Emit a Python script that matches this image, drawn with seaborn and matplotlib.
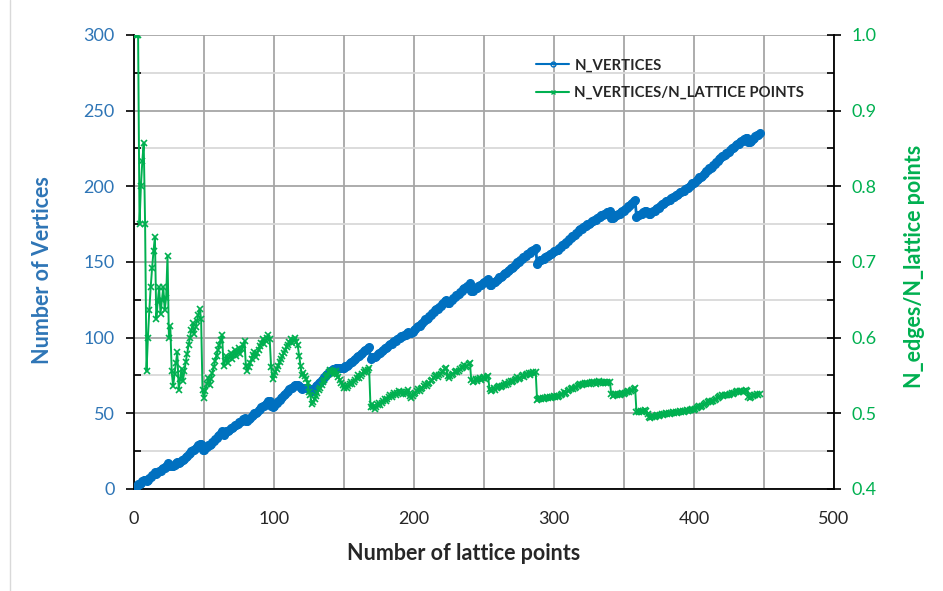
import numpy as np
import pandas as pd
import matplotlib
matplotlib.use("Agg")
import matplotlib.pyplot as plt
import seaborn as sns
from matplotlib.ticker import MultipleLocator
from matplotlib.lines import Line2D

# ---- data: number of vertices for each number of lattice points (1..447)
n_vertices = [
    1, 2, 3, 3, 4, 5, 6, 6, 5, 6,
    7, 8, 9, 10, 11, 10, 11, 12, 12, 13,
    14, 14, 15, 17, 15, 16, 15, 15, 16, 17,
    18, 17, 18, 19, 19, 20, 21, 22, 23, 24,
    25, 26, 26, 27, 28, 29, 30, 30, 26, 26,
    27, 28, 29, 29, 30, 31, 32, 33, 34, 35,
    36, 37, 38, 36, 37, 38, 38, 39, 40, 40,
    41, 42, 42, 43, 44, 44, 45, 46, 47, 45,
    45, 46, 47, 48, 49, 50, 50, 51, 52, 53,
    54, 55, 55, 56, 57, 58, 58, 55, 54, 55,
    56, 57, 58, 59, 60, 61, 62, 63, 64, 65,
    66, 67, 67, 68, 69, 69, 69, 68, 67, 66,
    67, 67, 67, 67, 66, 66, 65, 66, 67, 68,
    69, 70, 71, 72, 73, 74, 75, 76, 77, 78,
    78, 79, 79, 80, 80, 80, 80, 80, 80, 80,
    81, 81, 82, 83, 84, 84, 85, 86, 87, 88,
    88, 89, 90, 91, 92, 92, 93, 94, 86, 87,
    87, 87, 88, 89, 90, 90, 91, 92, 93, 93,
    94, 95, 96, 96, 97, 98, 98, 99, 100, 100,
    101, 101, 102, 102, 103, 104, 103, 103, 104, 105,
    106, 107, 108, 108, 109, 110, 111, 112, 112, 113,
    114, 115, 116, 117, 118, 119, 119, 120, 121, 122,
    123, 124, 125, 123, 123, 124, 125, 126, 127, 128,
    128, 129, 130, 131, 132, 133, 133, 134, 135, 136,
    131, 131, 132, 133, 133, 134, 135, 135, 136, 137,
    137, 138, 139, 135, 135, 136, 137, 137, 138, 139,
    140, 140, 141, 142, 143, 143, 144, 145, 146, 146,
    147, 148, 149, 150, 150, 151, 152, 153, 153, 154,
    155, 156, 156, 157, 158, 158, 159, 149, 150, 151,
    151, 152, 152, 153, 154, 154, 155, 155, 156, 157,
    157, 158, 158, 159, 160, 161, 162, 162, 163, 164,
    165, 166, 167, 167, 168, 169, 170, 171, 172, 172,
    173, 174, 174, 175, 175, 176, 177, 177, 178, 178,
    179, 180, 180, 181, 181, 182, 182, 183, 183, 184,
    179, 179, 180, 181, 181, 182, 182, 183, 184, 184,
    185, 186, 187, 187, 188, 189, 190, 191, 180, 181,
    181, 182, 182, 183, 184, 184, 183, 182, 182, 183,
    184, 184, 185, 186, 186, 187, 188, 188, 189, 190,
    190, 191, 191, 192, 193, 193, 194, 194, 195, 196,
    196, 197, 197, 198, 199, 199, 200, 201, 202, 202,
    203, 204, 205, 206, 206, 207, 208, 209, 210, 211,
    212, 212, 213, 214, 215, 216, 217, 218, 219, 220,
    220, 221, 222, 222, 223, 224, 225, 225, 226, 227,
    228, 228, 229, 230, 230, 231, 232, 232, 229, 229,
    230, 231, 232, 233, 234, 234, 235,
]
lattice_points = list(range(1, len(n_vertices) + 1))

x_ticks = [0, 100, 200, 300, 400, 500]
left_ticks = [0, 50, 100, 150, 200, 250, 300]
right_ticks = [0.4, 0.5, 0.6, 0.7, 0.8, 0.9, 1.0]

df = pd.DataFrame({"lattice": lattice_points, "vertices": n_vertices})
df["ratio"] = df["vertices"] / df["lattice"]

BLUE = "#0070C0"
BLUE_TXT = "#2E75B6"
GREEN = "#00B050"

sns.set_theme(style="white")
plt.rcParams["font.family"] = ["Lato", "DejaVu Sans"]

fig = plt.figure(figsize=(9.43, 5.91), dpi=100)
ax = fig.add_axes([0.142, 0.1726, 0.7423, 0.7682])
ax2 = ax.twinx()

sns.lineplot(data=df, x="lattice", y="vertices", ax=ax, color=BLUE, lw=2,
             marker="o", markersize=5.5, markeredgecolor=BLUE, markeredgewidth=1,
             label="N_VERTICES", legend=False, zorder=3)
sns.lineplot(data=df, x="lattice", y="ratio", ax=ax2, color=GREEN, lw=1.4,
             marker="x", markersize=4, markeredgecolor=GREEN, markeredgewidth=1.2,
             label="N_VERTICES/N_LATTICE POINTS", legend=False, zorder=3)

ax.set_xlim(0, 500)
ax.set_ylim(0, 300)
ax2.set_ylim(0.4, 1.0)
ax.set_xticks(x_ticks)
ax.set_yticks(left_ticks)
ax2.set_yticks(right_ticks)
ax.xaxis.set_minor_locator(MultipleLocator(50))
ax.yaxis.set_minor_locator(MultipleLocator(25))
ax2.yaxis.set_minor_locator(MultipleLocator(0.05))
ax2.set_yticklabels([f"{v:.1f}" for v in right_ticks])

ax.set_axisbelow(True)
ax.grid(which="major", color="#A6A6A6", lw=1.3)
ax.grid(which="minor", axis="x", color="#A6A6A6", lw=1.3)
ax.grid(which="minor", axis="y", color="#D9D9D9", lw=1.3)
ax2.grid(False)

for s in ["top", "right"]:
    ax.spines[s].set_visible(False)
for s in ["top", "left", "bottom"]:
    ax2.spines[s].set_visible(False)
for s in ["left", "bottom"]:
    ax.spines[s].set_color("black")
    ax.spines[s].set_linewidth(1.3)
ax2.spines["right"].set_color("black")
ax2.spines["right"].set_linewidth(1.3)

ax.tick_params(axis="x", which="major", direction="inout", length=8, width=1.2,
               color="black", labelsize=13, labelcolor="#262626", pad=12)
ax.tick_params(axis="x", which="minor", direction="in", length=5, width=1.2, color="black")
ax.tick_params(axis="y", which="major", direction="out", length=6, width=1.2,
               color="black", labelsize=13, labelcolor=BLUE_TXT, pad=8, left=True)
ax.tick_params(axis="y", which="minor", direction="in", length=5, width=1.2, color="black", left=True)
ax2.tick_params(axis="y", which="major", direction="inout", length=10, width=1.2,
                color="black", labelsize=13, labelcolor=GREEN, pad=8, right=True)
ax2.tick_params(axis="y", which="minor", direction="in", length=5, width=1.2, color="black", right=True)

ax.set_xlabel("Number of lattice points", fontsize=15.5, fontweight="bold",
              color="#262626")
ax.set_ylabel("Number of Vertices", fontsize=15.5, fontweight="bold",
              color=BLUE_TXT)
ax2.set_ylabel("N_edges/N_lattice points", fontsize=15.5, fontweight="bold",
               color=GREEN)
ax.xaxis.set_label_coords(0.471, -0.12)
ax.yaxis.set_label_coords(-0.116, 0.482)
ax2.yaxis.set_label_coords(1.1, 0.49)

handles = [
    Line2D([], [], color=BLUE, lw=1.5, marker="o", markersize=3.5,
           markerfacecolor="none", markeredgecolor=BLUE),
    Line2D([], [], color=GREEN, lw=1.5, marker="x", markersize=3.5,
           markeredgecolor=GREEN),
]
leg = ax2.legend(handles, ["N_VERTICES", "N_VERTICES/N_LATTICE POINTS"],
                 loc="upper left", bbox_to_anchor=(0.556, 0.978), frameon=False,
                 fontsize=10.7, labelspacing=0.9, handlelength=2.2,
                 handletextpad=0.35)
for t in leg.get_texts():
    t.set_color("#262626")
    t.set_fontweight("bold")
leg.set_zorder(10)

fig.add_artist(Line2D([10 / 943, 10 / 943], [0, 1], transform=fig.transFigure,
                      color="#D9D9D9", lw=1))

fig.savefig("out.png", dpi=100)
